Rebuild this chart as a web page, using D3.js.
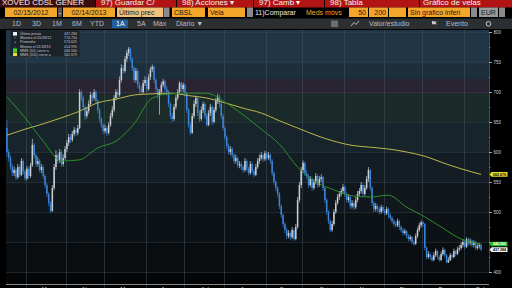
<!DOCTYPE html>
<html>
<head>
<meta charset="utf-8">
<script src="https://cdn.jsdelivr.net/npm/d3@7"></script>
<style>
  body { margin: 0; background: #000; }
  svg { display: block; font-family: "Liberation Sans", Arial, sans-serif; }
</style>
</head>
<body>
<svg id="chart" width="512" height="288"></svg>
<script>
// daily candles CBSL, 02/15/2012 - 02/14/2013 (weekdays)
const opens = [640,600,590,575,565,570,558,575,562,585, 568,556,572,560,578,612,595,580,585,570,
  575,560,545,530,515,502,540,575,595,585, 600,580,590,605,615,625,620,630,637,632,
  640,700,690,675,660,668,680,695,690,700, 685,670,655,645,635,640,632,645,660,670,
  690,700,695,720,740,735,755,765,772,755, 740,720,735,712,705,700,715,720,705,725,
  738,742,720,705,695,700,712,718,705,700, 680,660,655,675,690,700,715,705,712,698,
  670,645,632,660,680,690,665,655,670,680, 660,645,665,675,650,670,685,692,680,660,
  640,625,610,600,605,595,585,590,578,580, 575,570,585,572,565,580,568,562,575,585,
  590,595,588,598,590,595,585,565,550,540, 530,510,495,480,470,460,465,458,470,455,
  475,520,545,570,582,565,560,545,555,540, 550,560,545,555,558,540,520,500,485,470,
  480,500,515,525,530,535,542,530,520,525, 510,515,508,520,530,535,545,530,540,555,
  570,540,515,505,510,505,500,508,502,498, 505,495,490,485,480,478,485,475,470,465,
  468,460,455,458,450,447,460,470,478,483, 480,440,425,430,425,420,428,435,425,420,
  430,437,428,416,420,428,425,435,430,438, 440,445,450,442,455,448,452,445,450,440,
  443,445];
const highs = [653,605,594,580,576,573,580,578,590,588, 571,577,575,582,622,615,598,592,588,580,
  578,563,548,533,518,545,580,603,598,605, 603,596,610,620,630,630,635,642,640,645,
  705,703,694,678,674,686,700,699,705,703, 688,673,658,648,646,643,650,665,676,695,
  705,704,726,746,745,760,770,775,774,758, 743,740,738,716,710,720,726,723,730,742,
  746,744,723,708,705,717,722,720,710,703, 683,665,680,695,705,718,717,716,714,700,
  673,650,665,686,694,692,670,676,684,683, 664,670,680,678,675,690,697,695,683,664,
  643,628,614,610,608,598,596,593,585,584, 578,590,588,575,585,583,571,580,590,596,
  600,598,602,601,600,598,588,568,553,543, 533,513,498,483,474,470,468,475,473,480,
  525,550,575,586,584,570,563,560,558,555, 565,563,560,563,560,543,523,503,488,485,
  505,520,530,535,540,547,544,533,530,528, 520,518,525,535,540,550,548,545,560,575,
  572,543,518,515,513,508,512,511,505,509, 507,498,493,488,484,489,487,478,473,472,
  470,463,462,460,453,464,474,482,486,485, 482,443,435,433,428,433,439,437,428,434,
  441,439,430,425,432,431,439,437,442,445, 450,455,453,458,457,456,454,453,452,447,
  449,447];
const lows = [592,584,570,560,560,553,555,558,560,563, 552,553,555,557,575,590,575,576,566,565,
  555,540,525,510,498,500,536,570,580,582, 575,576,587,600,610,615,617,626,627,628,
  638,685,670,653,656,664,676,684,686,680, 665,650,640,630,631,627,629,642,656,666,
  686,690,692,716,730,732,750,760,750,735, 715,716,706,698,695,697,710,700,702,720,
  733,715,700,688,662,696,708,700,694,675, 655,650,652,671,686,696,700,700,692,665,
  640,628,630,656,675,660,650,652,665,655, 642,643,660,645,648,666,680,675,655,635,
  620,605,596,595,590,580,581,574,573,570, 565,567,568,561,562,564,558,560,572,580,
  586,583,585,586,587,580,560,545,535,525, 505,490,475,465,455,456,453,455,452,453,
  472,516,540,565,560,555,540,542,535,537, 546,540,542,550,535,515,495,480,466,467,
  477,497,512,520,526,531,525,515,516,505, 506,503,505,516,526,531,525,527,537,550,
  535,510,500,501,500,496,497,498,494,495, 490,486,481,476,474,475,470,466,461,462,
  456,451,452,446,444,445,457,467,474,475, 436,421,422,420,417,418,425,421,417,418,
  427,424,415,415,418,421,423,426,428,434, 437,441,438,440,444,444,441,441,436,437,
  439,435];
const closes = [600,590,575,565,570,558,575,562,585,568, 556,572,560,578,612,595,580,585,570,575,
  560,545,530,515,502,540,575,595,585,600, 580,590,605,615,625,620,630,637,632,640,
  700,690,675,660,668,680,695,690,700,685, 670,655,645,635,640,632,645,660,670,690,
  700,695,720,740,735,755,765,772,755,740, 720,735,712,705,700,715,720,705,725,738,
  742,720,705,695,700,712,718,705,700,680, 660,655,675,690,700,715,705,712,698,670,
  645,632,660,680,690,665,655,670,680,660, 645,665,675,650,670,685,692,680,660,640,
  625,610,600,605,595,585,590,578,580,575, 570,585,572,565,580,568,562,575,585,590,
  595,588,598,590,595,585,565,550,540,530, 510,495,480,470,460,465,458,470,455,475,
  520,545,570,582,565,560,545,555,540,550, 560,545,555,558,540,520,500,485,470,480,
  500,515,525,530,535,542,530,520,525,510, 515,508,520,530,535,545,530,540,555,570,
  540,515,505,510,505,500,508,502,498,505, 495,490,485,480,478,485,475,470,465,468,
  460,455,458,450,447,460,470,478,483,480, 440,425,430,425,420,428,435,425,420,430,
  437,428,416,420,428,425,435,430,438,440, 445,450,442,455,448,452,445,450,440,443,
  445,437.284];

// moving averages, read every 10 sessions
const maIndex = [0,10,20,30,40,50,60,70,80,90,100,110,120,130,140,150,160,170,180,190,200,210,220,230,240,250,261];
const ma50  = [692,657,618,585,587,607,618,647,690,697,698,698,683,662,638,613,575,550,537,527,525,528,508,492,473,455,446.56];
const ma200 = [628,638,647,657,668,682,688,695,697,698,694,690,682,673,665,652,640,628,618,611,608,605,600,593,582,572,562.679];

const priceTicks = [400,450,500,550,600,650,700,750,800];
const monthLabels = ["Mar","Abr","May","Jun","Jul","Ago","Sep","Oct","Nov","Dic","Ene","Feb"];

const legendLabels = ["Último precio","Máximo el 05/18/12","Promedio","Mínimo el 01/18/13","MMS (50) cierre a","MMS (200) cierre a"];
const legendValues = ["437.284","774.750","573.625","414.995","446.560","562.679"];

const periodButtons = ["1D","3D","1M","6M","YTD","1A","5A","Máx"];

const svg = d3.select("#chart");
const upColor = "#c9ced3";
const downColor = "#3a84da";

const days = d3.timeDay.range(new Date(2012, 1, 15), new Date(2013, 1, 15))
  .filter(d => d.getDay() % 6 !== 0);

const x = d3.scaleLinear().domain([-0.5, days.length - 0.5]).range([6, 482]);
const y = d3.scaleLinear().domain([400, 800]).range([272, 32]);

// ---------- plot background ----------
const bands = [
  [30, 62, "#203545"], [62, 79, "#1d2e3c"], [79, 94, "#282431"], [94, 122, "#1b2b2a"],
  [122, 152, "#17242b"], [152, 182, "#131d23"], [182, 212, "#10181d"],
  [212, 242, "#0c1216"], [242, 272, "#090d10"], [272, 284, "#050608"]
];
svg.append("g").selectAll("rect").data(bands).join("rect")
  .attr("x", 6).attr("width", 483)
  .attr("y", d => d[0]).attr("height", d => d[1] - d[0])
  .attr("fill", d => d[2]);

// horizontal grid
svg.append("g").selectAll("line").data(priceTicks).join("line")
  .attr("x1", 6).attr("x2", 489)
  .attr("y1", d => Math.round(y(d)) + 0.5).attr("y2", d => Math.round(y(d)) + 0.5)
  .attr("stroke", "#3a4a55").attr("stroke-width", 0.6).attr("opacity", 0.7);

// month starts
const monthStarts = [];
days.forEach((d, i) => {
  if (i > 0 && d.getMonth() !== days[i - 1].getMonth()) monthStarts.push(i);
});
svg.append("g").selectAll("line").data(monthStarts).join("line")
  .attr("x1", i => Math.round(x(i - 0.5)) + 0.5).attr("x2", i => Math.round(x(i - 0.5)) + 0.5)
  .attr("y1", 30).attr("y2", 288)
  .attr("stroke", "#4a5a66").attr("stroke-width", 0.6).attr("opacity", 0.75);

// ---------- candles ----------
const plotArea = svg.append("g");
const idx = d3.range(closes.length);
const col = i => closes[i] >= opens[i] ? upColor : downColor;

plotArea.append("g").selectAll("line").data(idx).join("line")
  .attr("x1", i => x(i)).attr("x2", i => x(i))
  .attr("y1", i => y(highs[i])).attr("y2", i => y(lows[i]))
  .attr("stroke", col).attr("stroke-width", 0.7);

plotArea.append("g").selectAll("rect").data(idx).join("rect")
  .attr("x", i => x(i) - 0.75).attr("width", 1.5)
  .attr("y", i => y(Math.max(opens[i], closes[i])))
  .attr("height", i => Math.max(0.7, Math.abs(y(opens[i]) - y(closes[i]))))
  .attr("fill", col);

// ---------- moving averages ----------
const maLine = d3.line().x(d => x(d[0])).y(d => y(d[1])).curve(d3.curveMonotoneX);
plotArea.append("path").datum(d3.zip(maIndex, ma200))
  .attr("d", maLine).attr("fill", "none")
  .attr("stroke", "#bdb84e").attr("stroke-width", 1);
plotArea.append("path").datum(d3.zip(maIndex, ma50))
  .attr("d", maLine).attr("fill", "none")
  .attr("stroke", "#2f8f2c").attr("stroke-width", 1);

// ---------- legend ----------
const legend = svg.append("g").attr("transform", "translate(10,30)");
legend.append("rect").attr("width", 70).attr("height", 27)
  .attr("fill", "#1b2127").attr("stroke", "#3a444c").attr("stroke-width", 0.5).attr("opacity", 0.92);
const rows = legend.selectAll("g").data(legendLabels).join("g")
  .attr("transform", (d, i) => `translate(0,${3.8 + i * 4.1})`);
rows.append("text").attr("x", 10).attr("y", 1.4)
  .attr("font-size", 3.6).attr("fill", "#c8c8c8").text(d => d);
rows.append("text").attr("x", 67).attr("y", 1.4).attr("text-anchor", "end")
  .attr("font-size", 3.6).attr("fill", "#c8c8c8").text((d, i) => legendValues[i]);
const icons = ["#f0f0f0", null, null, null, "#3bd23b", "#e6dc3a"];
rows.each(function(d, i) {
  const g = d3.select(this);
  if (icons[i]) {
    g.append("rect").attr("x", 3).attr("y", -1.8).attr("width", 4).attr("height", 3.6)
      .attr("fill", icons[i]);
  } else {
    const sym = ["", "↑", "+", "↓"][i];
    g.append("text").attr("x", 5).attr("y", 1.4).attr("text-anchor", "middle")
      .attr("font-size", 3.8).attr("fill", "#ddd").text(sym);
  }
});

// ---------- right axis ----------
svg.append("rect").attr("x", 489).attr("y", 29).attr("width", 23).attr("height", 259).attr("fill", "#000");
// the 450 label sits under the value tags, as in the terminal
const yAxis = svg.append("g").attr("transform", "translate(489,0)")
  .call(d3.axisRight(y).tickValues(priceTicks).tickSize(3).tickPadding(1.5)
    .tickFormat(d => d === 450 ? "" : d3.format("d")(d)));
yAxis.select(".domain").attr("stroke", "#777").attr("stroke-width", 0.6);
yAxis.selectAll(".tick line").attr("stroke", "#ddd").attr("stroke-width", 0.7);
yAxis.selectAll(".tick text").attr("fill", "#d0d0d0").attr("font-size", 4.5).attr("font-family", "Liberation Sans, Arial");
const minor = svg.append("g").attr("transform", "translate(489,0)")
  .call(d3.axisRight(y).tickValues(d3.range(425, 800, 50)).tickSize(1.5).tickFormat(""));
minor.select(".domain").remove();
minor.selectAll(".tick line").attr("stroke", "#aaa").attr("stroke-width", 0.5);

// value tags
const tags = [
  {v: ma200[ma200.length - 1], fill: "#e8de2c", text: "#000", label: legendValues[5]},
  {v: ma50[ma50.length - 1], fill: "#22c022", text: "#fff", label: legendValues[4]},
  {v: closes[closes.length - 1], fill: "#f4f4f4", text: "#000", label: legendValues[0]}
];
const tagG = svg.append("g").selectAll("g").data(tags).join("g")
  .attr("transform", d => `translate(489.5,${y(d.v)})`);
tagG.append("path").attr("d", "M0,0 L2,-2.3 L18,-2.3 L18,2.3 L2,2.3 Z").attr("fill", d => d.fill);
tagG.append("text").attr("x", 10).attr("y", 1.3).attr("text-anchor", "middle")
  .attr("font-size", 3.6).attr("font-weight", "bold").attr("fill", d => d.text).text(d => d.label);

// ---------- bottom axis ----------
svg.append("line").attr("x1", 6).attr("x2", 489).attr("y1", 284.5).attr("y2", 284.5)
  .attr("stroke", "#aaa").attr("stroke-width", 0.8);
const monthMids = monthStarts.map((s, k) => {
  const e = k + 1 < monthStarts.length ? monthStarts[k + 1] : days.length + 8;
  return (s + e) / 2;
});
svg.append("g").selectAll("text").data(monthMids).join("text")
  .attr("x", m => x(m)).attr("y", 291).attr("text-anchor", "middle")
  .attr("font-size", 6).attr("fill", "#cfcfcf").text((m, k) => monthLabels[k]);

// ---------- header ----------
svg.append("rect").attr("width", 512).attr("height", 30).attr("fill", "#000");
const tabs = [[0, 95, "XOVED CDSL GENER", "#3b0e0e"], [96, 80, "97) Guardar C/", "#b21414"],
  [177, 76, "98) Acciones ▾", "#b21414"], [254, 70, "97) Camb ▾", "#b21414"],
  [325, 94, "98) Tabla", "#b21414"], [420, 92, "Gráfico de velas", "#b21414"]];
const tabG = svg.append("g").selectAll("g").data(tabs).join("g");
tabG.append("rect").attr("x", d => d[0]).attr("y", 0).attr("width", d => d[1]).attr("height", 7.5).attr("fill", d => d[3]);
tabG.append("text").attr("x", (d, i) => i === 0 ? d[0] + 2 : i === 5 ? d[0] + 3 : d[0] + 5).attr("y", 4.6)
  .attr("font-size", 8).attr("fill", "#f2f2f2").text(d => d[2]);

const fields = [
  [5, 52, "02/15/2012", "#f4a62a", "#1a1a1a", "middle"], [58, 4, "-", "#555", "#fff", "middle"],
  [63, 52, "02/14/2013", "#f4a62a", "#1a1a1a", "middle"], [117, 46, "Último prec", "#f2c27c", "#1a1a1a", "start"],
  [163.5, 6, "", "#8a8a8a", "#000", "middle"], [172, 33, "CBSL", "#f4a62a", "#1a1a1a", "start"],
  [208, 37, "Vela", "#f4a62a", "#1a1a1a", "start"], [247, 6, "", "#8a8a8a", "#000", "middle"],
  [349, 19, "50", "#f4a62a", "#1a1a1a", "end"], [369, 19, "200", "#f4a62a", "#1a1a1a", "end"],
  [389, 17, "", "#f4a62a", "#1a1a1a", "end"], [408, 62, "Sin gráfico inferi", "#f4a62a", "#1a1a1a", "start"],
  [471, 6, "", "#8a8a8a", "#000", "middle"], [479, 19, "EUR", "#9a9a9a", "#1a1a1a", "start"],
  [499, 6, "", "#8a8a8a", "#000", "middle"]];
const fG = svg.append("g").selectAll("g").data(fields).join("g");
fG.append("rect").attr("x", d => d[0]).attr("y", 7.5).attr("width", d => d[1]).attr("height", 9.5).attr("fill", d => d[3]);
fG.append("text")
  .attr("x", d => d[5] === "middle" ? d[0] + d[1] / 2 : d[5] === "end" ? d[0] + d[1] - 2 : d[0] + 2)
  .attr("y", 14.6).attr("text-anchor", d => d[5])
  .attr("font-size", 7).attr("fill", d => d[4]).text(d => d[2]);
svg.append("text").attr("x", 255).attr("y", 14.6).attr("font-size", 7).attr("fill", "#eee").text("11)Comparar");
svg.append("text").attr("x", 306).attr("y", 14.6).attr("font-size", 7).attr("fill", "#f4a62a").text("Meds móvs");

// period bar
svg.append("rect").attr("x", 0).attr("y", 18.5).attr("width", 512).attr("height", 10.5).attr("fill", "#2c2f32");
const btnX = [12, 32, 52, 72, 90, 116, 137, 153];
const btnG = svg.append("g").selectAll("g").data(periodButtons).join("g");
btnG.filter(d => d === "1A").append("rect")
  .attr("x", 112).attr("y", 19.5).attr("width", 16).attr("height", 8.5).attr("fill", "#22609c");
btnG.append("text").attr("x", (d, i) => btnX[i]).attr("y", 26.3)
  .attr("font-size", 7).attr("fill", d => d === "1A" ? "#fff" : "#b8bcc0").text(d => d);
svg.append("text").attr("x", 176).attr("y", 26.3).attr("font-size", 7).attr("fill", "#b8bcc0").text("Diario ▼");
svg.append("rect").attr("x", 331).attr("y", 20.5).attr("width", 7).attr("height", 6.5).attr("fill", "#6a6d70");
svg.append("path").attr("d", "M351,26 L354,22.5 L356,24.5 L359,21").attr("stroke", "#c8c8c8").attr("fill", "none").attr("stroke-width", 0.9);
svg.append("text").attr("x", 369).attr("y", 26.3).attr("font-size", 7).attr("fill", "#b8bcc0").text("Valor/estudio");
svg.append("path").attr("d", "M432,27 L432,21 L437,21.8 L435.5,23 L437,24.3 L432,24.3").attr("fill", "#c8c8c8");
svg.append("text").attr("x", 446).attr("y", 26.3).attr("font-size", 7).attr("fill", "#b8bcc0").text("Evento");
svg.append("circle").attr("cx", 488.5).attr("cy", 23.8).attr("r", 2.3).attr("fill", "none").attr("stroke", "#c8c8c8").attr("stroke-width", 1);
</script>
</body>
</html>
